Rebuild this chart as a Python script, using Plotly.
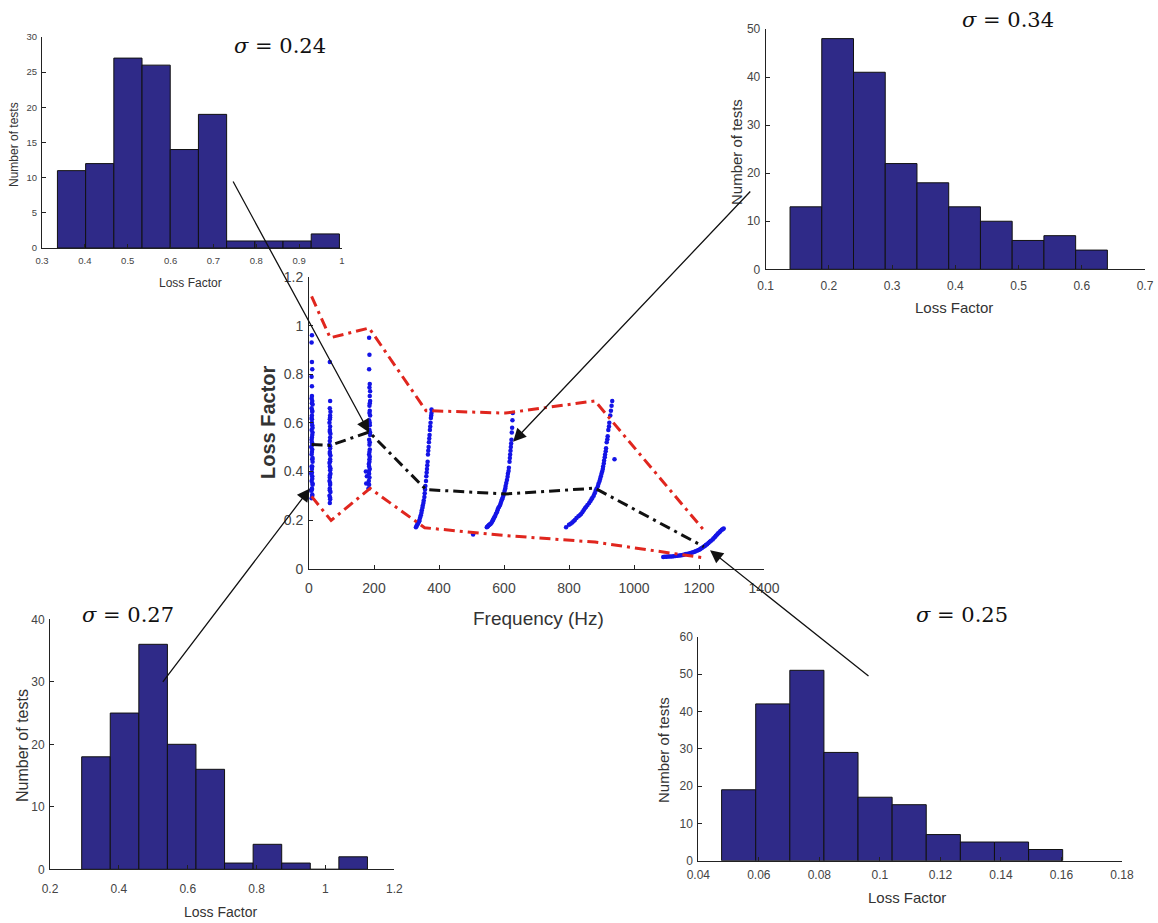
import plotly.graph_objects as go

W, H = 1158, 923

# ---------------- Histogram data ----------------
tl_counts = [11, 12, 27, 26, 14, 19, 1, 1, 1, 2]
tl_start, tl_width = 0.336, 0.0658
tr_counts = [13, 48, 41, 22, 18, 13, 10, 6, 7, 4]
tr_start, tr_width = 0.1385, 0.0502
bl_counts = [18, 25, 36, 20, 16, 1, 4, 1, 0, 2]
bl_start, bl_width = 0.292, 0.083
br_counts = [19, 42, 51, 29, 17, 15, 7, 5, 5, 3]
br_start, br_width = 0.0477, 0.01127

sigma_labels = ["0.24", "0.34", "0.27", "0.25"]

# ---------------- Central plot data ----------------
freq_nodes = [8, 65, 185, 360, 605, 880, 1215]
upper_bound = [1.12, 0.95, 0.99, 0.65, 0.64, 0.69, 0.158]
lower_bound = [0.297, 0.198, 0.33, 0.168, 0.136, 0.109, 0.045]
mean_line = [0.511, 0.507, 0.562, 0.325, 0.307, 0.331, 0.09]
upper_freq = [8, 65, 185, 360, 605, 880, 1215]
lower_freq = [8, 68, 188, 356, 605, 880, 1210]

# blue test points (frequency, loss factor) read per cluster
ca_f = [8, 10, 7, 9, 11, 8, 10, 7, 9, 8, 11, 10, 8, 9, 7, 10, 8, 9, 11, 8, 10, 9, 8, 9, 10, 8, 9, 10, 8, 9, 9, 8, 10, 9, 8, 9,
        10, 9, 11, 10, 9, 10, 11, 10, 9, 10, 11, 9, 10, 11]
ca_l = [0.29, 0.30, 0.32, 0.33, 0.35, 0.36, 0.38, 0.39, 0.41, 0.42, 0.44, 0.45, 0.47, 0.48, 0.50, 0.51, 0.53, 0.54,
        0.56, 0.57, 0.59, 0.60, 0.62, 0.63, 0.65, 0.66, 0.68, 0.69, 0.70, 0.71, 0.75, 0.79, 0.82, 0.85, 0.93, 0.96,
        0.305, 0.325, 0.345, 0.37, 0.395, 0.42, 0.455, 0.49, 0.52, 0.55, 0.58, 0.615, 0.645, 0.675]
cb_f = [64, 65, 63, 66, 64, 65, 63, 64, 66, 65, 64, 63, 65, 66, 64, 65, 63, 64, 65, 66, 64, 65, 63, 64, 65, 66, 64, 65, 64,
        65, 64, 65, 64, 66, 65, 64, 65, 64, 65]
cb_l = [0.27, 0.285, 0.30, 0.315, 0.33, 0.345, 0.36, 0.375, 0.39, 0.405, 0.42, 0.435, 0.45, 0.465, 0.48, 0.495,
        0.51, 0.525, 0.54, 0.555, 0.57, 0.585, 0.60, 0.615, 0.63, 0.645, 0.66, 0.69, 0.85,
        0.292, 0.322, 0.352, 0.383, 0.412, 0.442, 0.473, 0.503, 0.563, 0.622]
cc_f = [176, 178, 175, 183, 185, 184, 186, 185, 187, 184, 186, 185, 187, 186, 185, 188, 186, 187, 185, 188, 187,
        186, 188, 187, 188, 186, 187, 185, 186, 185, 184, 185, 186, 187, 186, 187, 188, 187, 186, 187]
cc_l = [0.35, 0.38, 0.40, 0.33, 0.345, 0.36, 0.375, 0.39, 0.41, 0.43, 0.45, 0.47, 0.49, 0.51, 0.53, 0.55, 0.57,
        0.59, 0.61, 0.63, 0.65, 0.67, 0.69, 0.71, 0.73, 0.745, 0.76, 0.82, 0.88, 0.95,
        0.40, 0.42, 0.44, 0.46, 0.48, 0.52, 0.56, 0.60, 0.64, 0.68]
cd_f = [329, 333, 337, 340, 344, 347, 350, 353, 356, 358, 361, 363, 365, 366, 368, 369, 371, 372, 374, 375, 377, 377,
        331, 335, 339, 342, 346, 349, 352, 355, 357, 360, 362, 364, 367, 370, 373, 376]
cd_l = [0.17, 0.18, 0.19, 0.20, 0.22, 0.24, 0.26, 0.28, 0.31, 0.34, 0.38, 0.41, 0.44, 0.47, 0.50, 0.52, 0.55, 0.57,
        0.60, 0.62, 0.64, 0.655, 0.175, 0.185, 0.195, 0.21, 0.23, 0.25, 0.27, 0.295, 0.325, 0.36, 0.395, 0.425,
        0.485, 0.535, 0.585, 0.63]
ce_f = [505, 547, 551, 555, 559, 562, 566, 570, 575, 580, 585, 590, 594, 598, 602, 605, 609, 612, 615, 617, 619,
        621, 623, 624, 625, 626, 627, 549, 553, 557, 564, 568, 572, 578, 582, 588, 592, 596, 600, 604, 607, 611, 614,
        618, 620, 622]
ce_l = [0.14, 0.17, 0.175, 0.18, 0.185, 0.19, 0.20, 0.21, 0.225, 0.24, 0.255, 0.27, 0.285, 0.30, 0.32, 0.34, 0.365,
        0.39, 0.415, 0.44, 0.47, 0.50, 0.53, 0.56, 0.58, 0.61, 0.64, 0.172, 0.178, 0.183, 0.195, 0.205, 0.215, 0.232,
        0.248, 0.262, 0.278, 0.292, 0.31, 0.33, 0.352, 0.378, 0.402, 0.455, 0.485, 0.515]
cf_f = [791, 800, 810, 818, 829, 837, 845, 853, 862, 869, 876, 882, 889, 894, 898, 902, 905, 908, 911, 914, 916,
        919, 921, 924, 927, 929, 931, 933, 940, 805, 814, 823, 833, 841, 849, 857, 866, 872, 879, 885, 891, 896, 900,
        904, 907, 910, 913, 918, 923]
cf_l = [0.17, 0.18, 0.19, 0.20, 0.215, 0.225, 0.24, 0.255, 0.27, 0.285, 0.30, 0.32, 0.34, 0.36, 0.38, 0.40, 0.42,
        0.445, 0.47, 0.495, 0.52, 0.545, 0.57, 0.60, 0.63, 0.65, 0.67, 0.69, 0.45, 0.185, 0.195, 0.208, 0.22, 0.232,
        0.248, 0.262, 0.278, 0.292, 0.31, 0.33, 0.35, 0.37, 0.39, 0.41, 0.432, 0.458, 0.483, 0.532, 0.585]
cg_f = [1090, 1100, 1110, 1122, 1134, 1145, 1155, 1166, 1177, 1186, 1195, 1203, 1210, 1218, 1225, 1233, 1242,
        1249, 1256, 1263, 1270, 1276, 1095, 1105, 1116, 1128, 1140, 1150, 1160, 1172, 1182, 1190, 1199, 1206, 1214,
        1221, 1229, 1237, 1245, 1252, 1259, 1266, 1273]
cg_l = [0.048, 0.049, 0.05, 0.051, 0.053, 0.055, 0.058, 0.061, 0.065, 0.069, 0.074, 0.08, 0.086, 0.093, 0.10, 0.11,
        0.12, 0.13, 0.14, 0.15, 0.16, 0.165, 0.049, 0.05, 0.05, 0.052, 0.054, 0.056, 0.06, 0.063, 0.067, 0.071, 0.077,
        0.083, 0.09, 0.097, 0.105, 0.115, 0.125, 0.135, 0.145, 0.155, 0.162]

# arrow tips in central data coordinates (freq, loss)
arrow_tips = [(185, 0.56), (628, 0.522), (3, 0.33), (1234, 0.076)]

# ---------------- Layout geometry (page pixels) ----------------
def dom_x(a, b):
    return [a / W, b / W]

def dom_y(top, bottom):
    return [1 - bottom / H, 1 - top / H]

BAR_COLOR = "#2f2a88"
FONT = "Liberation Sans"

fig = go.Figure()

def add_hist(counts, start, width, xa, ya):
    xs = [start + width * (i + 0.5) for i in range(len(counts))]
    fig.add_trace(go.Bar(x=xs, y=counts, width=[width] * len(counts), xaxis=xa, yaxis=ya,
                         marker=dict(color=BAR_COLOR, line=dict(color="#111", width=1)),
                         showlegend=False, hoverinfo="skip"))

add_hist(tl_counts, tl_start, tl_width, "x", "y")
add_hist(tr_counts, tr_start, tr_width, "x2", "y2")
add_hist(bl_counts, bl_start, bl_width, "x4", "y4")
add_hist(br_counts, br_start, br_width, "x5", "y5")

# central plot
all_f = ca_f + cb_f + cc_f + cd_f + ce_f + cf_f + cg_f
all_l = ca_l + cb_l + cc_l + cd_l + ce_l + cf_l + cg_l
fig.add_trace(go.Scatter(x=all_f, y=all_l, mode="markers", xaxis="x3", yaxis="y3",
                         marker=dict(color="#1414e6", size=4.5, line=dict(width=0)),
                         showlegend=False, hoverinfo="skip"))
dash = "11px,5px,3px,5px"
fig.add_trace(go.Scatter(x=upper_freq, y=upper_bound, mode="lines", xaxis="x3", yaxis="y3",
                         line=dict(color="#e0261e", width=3, dash=dash), showlegend=False))
fig.add_trace(go.Scatter(x=lower_freq, y=lower_bound, mode="lines", xaxis="x3", yaxis="y3",
                         line=dict(color="#e0261e", width=3, dash=dash), showlegend=False))
fig.add_trace(go.Scatter(x=freq_nodes, y=mean_line, mode="lines", xaxis="x3", yaxis="y3",
                         line=dict(color="#111111", width=3, dash=dash), showlegend=False))

def axis(domain, rng, tickvals, fs, anchor, ticktext=None, standoff=0):
    d = dict(domain=domain, range=rng, anchor=anchor, showline=True, linecolor="#222", linewidth=1,
             ticks="inside", ticklen=4, tickcolor="#222", showgrid=False, zeroline=False,
             automargin=False, ticklabelstandoff=standoff,
             tickvals=tickvals, tickfont=dict(family=FONT, size=fs, color="#444"), fixedrange=True)
    if ticktext is not None:
        d["ticktext"] = ticktext
    return d

layout = dict(
    width=W, height=H, margin=dict(l=0, r=0, t=0, b=0, pad=0, autoexpand=False),
    paper_bgcolor="white", plot_bgcolor="rgba(0,0,0,0)", showlegend=False,
    xaxis=axis(dom_x(42, 342), [0.3, 1.0], [0.3, 0.4, 0.5, 0.6, 0.7, 0.8, 0.9, 1.0], 9.5, "y",
               ["0.3", "0.4", "0.5", "0.6", "0.7", "0.8", "0.9", "1"], standoff=4),
    yaxis=axis(dom_y(37, 248), [0, 30], [0, 5, 10, 15, 20, 25, 30], 9.5, "x", standoff=2),
    xaxis2=axis(dom_x(765.7, 1145), [0.1, 0.7], [0.1, 0.2, 0.3, 0.4, 0.5, 0.6, 0.7], 12, "y2", standoff=5),
    yaxis2=axis(dom_y(29, 269.3), [0, 50], [0, 10, 20, 30, 40, 50], 12, "x2", standoff=2),
    xaxis3=axis(dom_x(309, 764), [0, 1400], [0, 200, 400, 600, 800, 1000, 1200, 1400], 14, "y3", standoff=7),
    yaxis3=axis(dom_y(277, 568.6), [0, 1.2], [0, 0.2, 0.4, 0.6, 0.8, 1.0, 1.2], 14, "x3",
                ["0", "0.2", "0.4", "0.6", "0.8", "1", "1.2"], standoff=2),
    xaxis4=axis(dom_x(50, 394.3), [0.2, 1.2], [0.2, 0.4, 0.6, 0.8, 1.0, 1.2], 12, "y4",
                ["0.2", "0.4", "0.6", "0.8", "1", "1.2"], standoff=8),
    yaxis4=axis(dom_y(619.3, 869.3), [0, 40], [0, 10, 20, 30, 40], 12, "x4", standoff=2),
    xaxis5=axis(dom_x(698.3, 1122), [0.04, 0.18], [0.04, 0.06, 0.08, 0.1, 0.12, 0.14, 0.16, 0.18], 12, "y5",
                standoff=3),
    yaxis5=axis(dom_y(636.7, 860.7), [0, 60], [0, 10, 20, 30, 40, 50, 60], 12, "x5", standoff=2),
)
fig.update_layout(**layout)

ann = []

def label(text, cx, cy, size, angle=0, family=FONT, color="#333", bold=False):
    t = f"<b>{text}</b>" if bold else text
    ann.append(dict(text=t, x=cx / W, y=1 - cy / H, xref="paper", yref="paper", showarrow=False,
                    textangle=angle, xanchor="center", yanchor="middle",
                    font=dict(family=family, size=size, color=color)))

# axis titles
label("Number of tests", 14, 145, 12, -90)
label("Loss Factor", 190, 283, 12)
label("Number of tests", 737, 152, 15, -90)
label("Loss Factor", 954, 308, 15)
label("Loss Factor", 268, 422, 20, -90, bold=True)
label("Frequency (Hz)", 538, 618, 19)
label("Number of tests", 22, 746, 16, -90)
label("Loss Factor", 220, 912, 14)
label("Number of tests", 663, 750, 15, -90)
label("Loss Factor", 907, 897, 15)

# sigma labels
sig_pos = [(280, 46), (1008, 20), (128, 615), (962, 615)]
for s, (cx, cy) in zip(sigma_labels, sig_pos):
    label(f"<i>σ</i> = {s}", cx, cy, 21, family="DejaVu Serif", color="#111")

# arrows from histograms to central points (tails in page pixels)
tails = [(232.3, 180), (751.7, 190), (161.7, 683.3), (870, 677.3)]
for (f, l), (tx, ty) in zip(arrow_tips, tails):
    px = 309 + f * (764 - 309) / 1400
    py = 568.6 - l * (568.6 - 277) / 1.2
    ann.append(dict(x=f, y=l, xref="x3", yref="y3", ax=tx - px, ay=ty - py, axref="pixel", ayref="pixel",
                    text="", showarrow=True, arrowhead=2, arrowsize=2.0, arrowwidth=1.3,
                    arrowcolor="#111"))

fig.update_layout(annotations=ann)
fig.write_html("out.html", config={"displayModeBar": False},
               post_script="document.body.style.margin='0';document.body.style.overflow='hidden';")
